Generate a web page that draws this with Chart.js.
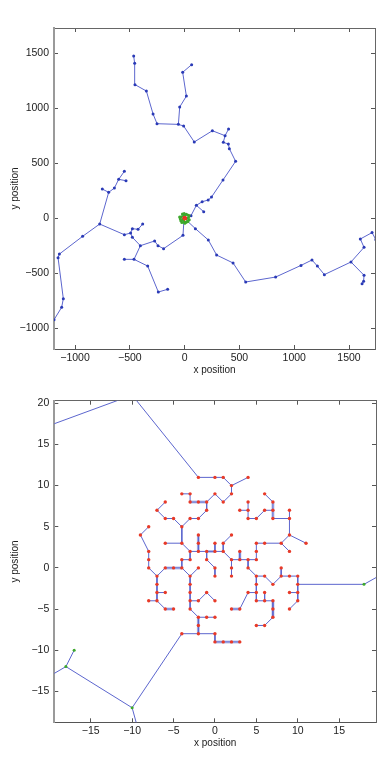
<!DOCTYPE html>
<html>
<head>
<meta charset="utf-8">
<script src="https://cdn.jsdelivr.net/npm/chart.js@4.4.1/dist/chart.umd.min.js"></script>
<style>
  html, body { margin: 0; padding: 0; background: #fff; }
  canvas { display: block; }
</style>
</head>
<body>
<canvas id="chartTop" width="387" height="380"></canvas>
<canvas id="chartBottom" width="387" height="380"></canvas>
<script>
/* Ramas del arbol: cada lista es x,y,x,y,... ; el primer punto es donde se une */
const innerBranches = [
  [-2,11, 0,11, 1,11, 2,10, 4,11],
  [2,10, 2,9, 1,8, 0,9, -1,8, -2,8, -3,8, -3,9, -4,9],
  [-1,8, -1,7, -2,6, -3,6, -4,5, -5,6, -6,6, -7,7, -6,8],
  [-4,5, -4,3, -3,2, -3,1, -4,1, -4,0, -5,0, -6,0, -7,-1, -8,0, -8,1, -8,2, -9,4, -8,5],
  [-6,3, -4,3],
  [-3,2, -2,2, -1,2, 0,2, 1,2, 2,1, 3,1, 4,1, 5,1, 5,2, 5,3, 6,3, 8,3, 9,4, 11,3],
  [-2,4, -2,3, -2,2],
  [0,3, 0,2],
  [2,4, 1,3, 1,2],
  [3,2, 3,1],
  [9,2, 8,3],
  [9,4, 9,6, 9,7],
  [9,6, 7,6, 7,7, 7,8, 6,9],
  [7,7, 6,7, 5,6, 4,6, 4,7, 4,8],
  [3,7, 4,7],
  [-1,2, -1,1, 0,0, 0,-1],
  [-4,0, -3,-1, -2,0],
  [-3,-1, -3,-2, -3,-3, -3,-4, -3,-5, -2,-6, -1,-6, 0,-6],
  [-3,-4, -2,-4, -1,-3, 0,-4],
  [-2,-6, -2,-7, -2,-8, 0,-8, 0,-9, 1,-9, 2,-9, 3,-9],
  [-2,-8, -4,-8],
  [-7,-1, -7,-2, -7,-3, -7,-4, -6,-5, -5,-5],
  [-7,-3, -6,-3],
  [-8,-4, -7,-4],
  [2,1, 2,0, 2,-1],
  [4,1, 4,0, 5,-1, 6,-1, 7,-2, 8,-1, 9,-1, 10,-1, 10,-2, 10,-3, 10,-4, 9,-5],
  [8,0, 8,-1],
  [9,-3, 10,-3],
  [5,-1, 5,-2, 5,-3, 5,-4, 6,-4, 7,-4, 7,-5, 7,-6, 6,-7, 5,-7],
  [6,-3, 6,-4],
  [4,-3, 5,-3],
  [4,-3, 3,-5, 2,-5]
];

const ringBranches = [
  [-2,11, -10,21, -30,13.6, -40,-5, -46,12],
  [-10,21, -20,40],
  [-10,21, 0,30, 15,36, 27,29],
  [0,30, -4,44],
  [-4,-8, -10,-17, -18,-12, -17,-10],
  [-18,-12, -35,-22, -26,-38],
  [-10,-17, -7,-28, 15,-35, 26,-24],
  [-7,-28, 2,-44],
  [-7,-28, 30,-30, 42,-12],
  [10,-2, 18,-2, 35,7.6, 40,25]
];

const outerBranches = [
  [35,7.6, 58,24, 107,118, 160,151, 215,166, 245,193, 350,348, 465,518, 408,633, 399,675, 353,691, 369,751,
   253,796, 88,694, -9,839, -57,854, -252,860, -288,948, -349,1157, -453,1215, -456,1409, -465,1475],
  [107,118, 174,60],
  [369,751, 401,812],
  [-57,854, -45,1012, 16,1111, -18,1327, 64,1397],
  [-7,-28, -15,-155, -192,-276, -243,-249, -274,-206, -404,-249, -477,-173, -493,-134, -550,-149, -775,-52,
   -931,-164, -1143,-325, -1155,-358, -1107,-731, -1122,-809, -1192,-922],
  [-493,-134, -477,-94, -425,-100, -383,-52],
  [-404,-249, -462,-373, -550,-373],
  [-462,-373, -337,-434, -240,-670, -155,-645],
  [-775,-52, -693,236, -751,266],
  [-693,236, -641,275, -602,354, -550,427],
  [-602,354, -535,342],
  [30,-30, 98,-94, 216,-197, 292,-334, 442,-406, 557,-579, 830,-534, 1062,-428, 1162,-379, 1211,-434,
   1275,-512, 1518,-397, 1637,-264, 1603,-188, 1710,-130, 1745,-194],
  [1518,-397, 1637,-518, 1633,-573, 1619,-595]
];

/* Tramos que se ven mas gruesos y palidos */
const paleSegments = [
  [-3,8, -1,8], [-2,4, -2,2], [-1,2, 0,2], [3,2, 3,1], [7,6, 7,8],
  [-6,0, -4,0], [-6,-5, -5,-5], [-2,-6, -2,-8], [0,-9, 3,-9], [2,-5, 3,-5], [7,-4, 7,-6]
];

/* Ejes */
const topXTicks = [-1000, -500, 0, 500, 1000, 1500];
const topYTicks = [-1000, -500, 0, 500, 1000, 1500];
const bottomXTicks = [-15, -10, -5, 0, 5, 10, 15];
const bottomYTicks = [-15, -10, -5, 0, 5, 10, 15, 20];

const LINE = 'rgb(92,102,206)';
const FONT = '"Liberation Sans", Arial, sans-serif';

/* Arma los puntos y las lineas (null corta la linea) */
function buildTree(groups) {
  const seen = new Set();
  const edges = [];
  const dots = groups.map(() => []);
  groups.forEach((branches, gi) => {
    branches.forEach(b => {
      for (let i = 0; i < b.length; i += 2) {
        const key = b[i] + ',' + b[i + 1];
        if (!seen.has(key)) {
          seen.add(key);
          dots[gi].push({x: b[i], y: b[i + 1]});
        }
        edges.push({x: b[i], y: b[i + 1]});
      }
      edges.push({x: null, y: null});
    });
  });
  return {edges, dots};
}

function segmentsToData(segs) {
  const out = [];
  segs.forEach(s => {
    out.push({x: s[0], y: s[1]}, {x: s[2], y: s[3]}, {x: null, y: null});
  });
  return out;
}

const tree = buildTree([innerBranches, ringBranches, outerBranches]);

function fmt(v) {
  return v < 0 ? '\u2212' + Math.abs(v) : String(v);
}

function makeScales(opt) {
  const grid = {drawOnChartArea: false, drawTicks: true, tickLength: -4, color: '#555'};
  const tickFont = {family: FONT, size: 10.5};
  const titleFont = {family: FONT, size: 10};
  return {
    x: {
      type: 'linear', position: 'bottom', min: opt.xmin, max: opt.xmax,
      afterBuildTicks: s => { s.ticks = opt.xticks.map(v => ({value: v})); },
      afterFit: s => { s.height = opt.xHeight; },
      ticks: {font: tickFont, color: '#222', padding: 6.7, maxRotation: 0, autoSkip: false, callback: fmt},
      grid: grid,
      border: {color: '#555', width: 1},
      title: {display: true, text: 'x position', font: titleFont, color: '#222', padding: {top: 0, bottom: opt.xTitlePad}}
    },
    x2: {
      type: 'linear', axis: 'x', position: 'top', min: opt.xmin, max: opt.xmax,
      afterBuildTicks: s => { s.ticks = opt.xticks.map(v => ({value: v})); },
      afterFit: s => { s.height = 0; },
      ticks: {display: false},
      grid: grid,
      border: {color: '#666', width: 1}
    },
    y: {
      type: 'linear', position: 'left', min: opt.ymin, max: opt.ymax,
      afterBuildTicks: s => { s.ticks = opt.yticks.map(v => ({value: v})); },
      afterFit: s => { s.width = opt.yWidth; },
      ticks: {font: tickFont, color: '#222', padding: 9, autoSkip: false, callback: fmt},
      grid: grid,
      border: {color: '#9a9a9a', width: 2},
      title: {display: true, text: 'y position', font: titleFont, color: '#222', padding: {top: 9, bottom: 0}}
    },
    y2: {
      type: 'linear', axis: 'y', position: 'right', min: opt.ymin, max: opt.ymax,
      afterBuildTicks: s => { s.ticks = opt.yticks.map(v => ({value: v})); },
      afterFit: s => { s.width = 0; },
      ticks: {display: false},
      grid: grid,
      border: {color: '#666', width: 1}
    }
  };
}

function makeDatasets(r) {
  const dotSet = (data, color, radius) => ({
    data, showLine: false, pointRadius: radius, pointBorderWidth: 0,
    pointBackgroundColor: color, clip: 0
  });
  return [
    dotSet(tree.dots[0], 'rgb(232,58,40)', r.red),
    dotSet(tree.dots[1], 'rgb(62,168,44)', r.green),
    dotSet(tree.dots[2], 'rgb(42,58,182)', r.blue),
    {data: tree.edges, showLine: true, borderColor: LINE, borderWidth: 1, pointRadius: 0, spanGaps: false, clip: 0},
    {data: segmentsToData(paleSegments), showLine: true, borderColor: 'rgba(178,185,232,0.85)', borderWidth: 3,
     pointRadius: 0, spanGaps: false, clip: 0}
  ];
}

function makeChart(id, opt) {
  return new Chart(document.getElementById(id).getContext('2d'), {
    type: 'scatter',
    data: {datasets: makeDatasets(opt.radius)},
    options: {
      responsive: false,
      animation: false,
      devicePixelRatio: 1,
      layout: {padding: opt.padding},
      plugins: {legend: {display: false}, tooltip: {enabled: false}},
      scales: makeScales(opt)
    }
  });
}

makeChart('chartTop', {
  xmin: -1192, xmax: 1737, ymin: -1188, ymax: 1730,
  xticks: topXTicks, yticks: topYTicks,
  padding: {top: 28, left: 0, right: 12, bottom: 0},
  xHeight: 31, yWidth: 54, xTitlePad: 4,
  radius: {red: 1, green: 1.5, blue: 1.5}
});

makeChart('chartBottom', {
  xmin: -19.4, xmax: 19.45, ymin: -18.77, ymax: 20.32,
  xticks: bottomXTicks, yticks: bottomYTicks,
  padding: {top: 20.7, left: 0, right: 11, bottom: 0},
  xHeight: 37.7, yWidth: 54.3, xTitlePad: 11,
  radius: {red: 1.7, green: 1.5, blue: 1.5}
});
</script>
</body>
</html>
